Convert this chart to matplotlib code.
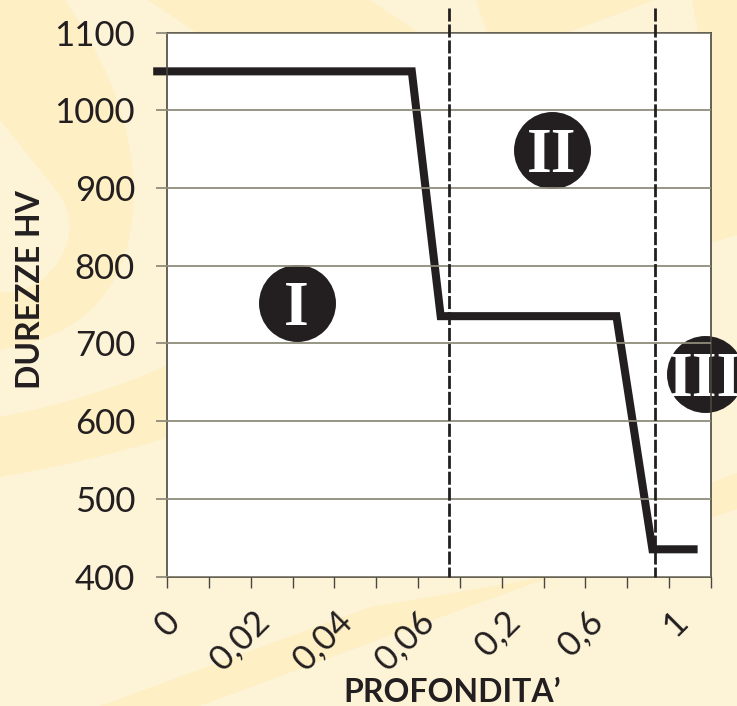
import matplotlib
matplotlib.use("Agg")
import matplotlib.pyplot as plt
from matplotlib.patches import PathPatch
from matplotlib.path import Path
from matplotlib.transforms import ScaledTranslation

# profile, x is the position along the (non linear) depth axis
depth_pos = [-0.33, 5.85, 6.54, 10.74, 11.6, 12.68]
hardness = [1050, 1050, 735, 735, 435, 435]

y_ticks = [400, 500, 600, 700, 800, 900, 1000, 1100]
x_ticks = list(range(14))
x_labels = ["0", "", "0,02", "", "0,04", "", "0,06", "", "0,2", "", "0,6", "", "1", ""]
# nudge of each x label in pixels, they are not centred under the ticks
x_nudge = [1, 0, -11, 0, -12, 0, -13, 0, -4, 0, -5, 0, 6, 0]

zone_limits = [6.75, 11.67]
zone_names = ["I", "II", "III"]
zone_x = [3.1, 9.2, 12.86]
zone_y = [752, 949, 660]

LIGHT = "#fdf4d8"
DARK = "#feefc4"
INK = "#231f20"
GRID = "#8f8c7c"
FONT = "Lato"

fig = plt.figure(figsize=(7.37, 7.06), dpi=100, facecolor=LIGHT)

# background shapes, in image pixels
bg = fig.add_axes([0, 0, 1, 1])
bg.set_xlim(0, 737)
bg.set_ylim(706, 0)
bg.axis("off")


def shape(points, color):
    # first point is a move, the rest are quadratic curve pairs or plain lines
    verts = [points[0]]
    codes = [Path.MOVETO]
    for p in points[1:]:
        if len(p) == 4:
            verts += [(p[0], p[1]), (p[2], p[3])]
            codes += [Path.CURVE3, Path.CURVE3]
        else:
            verts.append(p)
            codes.append(Path.LINETO)
    verts.append(points[0])
    codes.append(Path.CLOSEPOLY)
    bg.add_patch(PathPatch(Path(verts, codes), fc=color, ec="none"))


# left blob with the light hole in it
shape([(0, 0), (65, 0), (140, 110, 133, 210), (125, 330, 0, 350)], DARK)
shape([(0, 120), (60, 195), (80, 228, 58, 262), (35, 295, 0, 292)], LIGHT)
# left band
shape([(0, 417), (90, 400, 170, 364), (170, 437), (90, 462, 0, 477)], DARK)
# top and right
shape([(148, 0), (197, 33), (420, 33), (370, 0)], DARK)
shape([(476, 0), (655, 0), (567, 33), (487, 33)], DARK)
shape([(692, 0), (737, 0), (737, 235), (711, 243), (711, 33), (698, 33)], DARK)
# lower band
shape([(737, 473), (711, 483), (540, 578), (370, 607), (100, 706), (200, 706),
       (370, 643), (537, 582), (711, 518), (737, 509)], DARK)

ax = fig.add_axes([167 / 737, 1 - 576.5 / 706, 544 / 737, 544 / 706])
ax.set_facecolor("white")
ax.set_xlim(0, 13)
ax.set_ylim(400, 1100)

ax.set_yticks(y_ticks)
ax.set_xticks(x_ticks)
ax.set_xticklabels(x_labels, rotation=45, ha="center", va="top",
                   family=FONT, fontsize=25, color=INK)
ax.set_yticklabels(y_ticks, family=FONT, fontsize=25, color=INK)
ax.tick_params(axis="y", length=8, width=1.3, color=GRID, pad=15)
ax.tick_params(axis="x", length=8, width=1, color="#4a4740", pad=12.5)
ax.grid(axis="y", color=GRID, lw=1.3)
# grid goes over the curve and the circles, like in the original
ax.set_axisbelow(False)
for s in ax.spines.values():
    s.set_color("#4a4740")
    s.set_linewidth(1.2)

for label, dx in zip(ax.get_xticklabels(), x_nudge):
    label.set_transform(label.get_transform() + ScaledTranslation(dx / 100, 0, fig.dpi_scale_trans))

ax.plot(depth_pos, hardness, color=INK, lw=5.8, solid_joinstyle="miter",
        solid_capstyle="butt", clip_on=False, zorder=2)

for lim in zone_limits:
    ax.plot([lim, lim], [1132, 400], color=INK, lw=2, ls=(0, (4.7, 1.05)),
            clip_on=False, zorder=5)

ax.scatter(zone_x, zone_y, s=3072, color=INK, clip_on=False, zorder=2.1, linewidths=0)
for x, y, name in zip(zone_x, zone_y, zone_names):
    ax.text(x, y, name, color="white", family="Liberation Serif", weight="bold",
            fontsize=46, ha="center", va="center_baseline", zorder=2.2, clip_on=False)

fig.text(452 / 737, 1 - 693 / 706, "PROFONDITA\u2019", family=FONT, weight="bold",
         fontsize=23, color=INK, ha="center", va="center")
fig.text(30.5 / 737, 1 - 290 / 706, "DUREZZE HV", family=FONT, weight="bold",
         fontsize=23, color=INK, ha="center", va="center", rotation=90)

fig.savefig("out.png", dpi=100, facecolor=LIGHT)
